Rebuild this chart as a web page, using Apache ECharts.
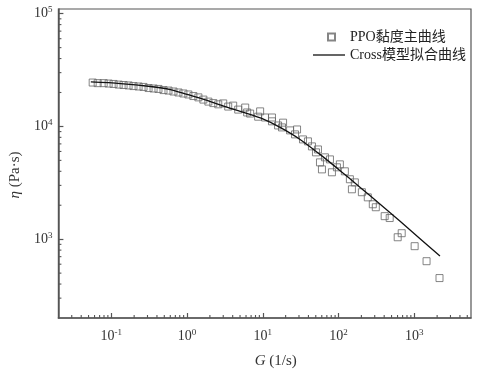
<!DOCTYPE html>
<html><head><meta charset="utf-8">
<script src="https://cdn.jsdelivr.net/npm/echarts@6/dist/echarts.min.js"></script>
<style>html,body{margin:0;padding:0;background:#fff}#c{width:481px;height:378px}</style>
</head><body><div id="c"></div>
<script>
// Measured viscosity master curve (shear rate G in 1/s, viscosity in Pa·s)
const measuredX = [0.0567,0.066,0.0792,0.0921,0.107,0.125,0.145,0.169,0.196,0.229,0.266,0.310,0.361,0.419,0.488,0.568,0.661,0.769,0.894,1.04,1.21,1.41,1.64,1.91,2.22,2.58,
  3.00,3.49,4.06,4.73,5.85,6.21,6.80,8.67,9.21,10.7,13.2,13.2,15.9,18.5,17.9,22.9,28.3,26.6,33.9,39.4,44.5,50.3,53.4,56.8,60.3,66.1,76.9,81.7,95.1,104,121,141,150,164,203,243,283,310,406,473,603,681,1010,1450,2150];
const measuredY = [24500,24200,24200,24000,23800,23500,23300,23100,22800,22600,22400,21900,21700,21500,21000,20800,20400,20000,19600,19200,18600,18100,17300,16600,16100,15700,
  16000,15000,15300,14100,14700,13300,13000,12200,13600,12000,12000,11100,10200,10800,9800,9220,9400,8500,7670,7370,6650,5890,6250,4800,4160,5320,5100,3920,4340,4610,4000,3400,2770,3190,2610,2350,2040,1920,1600,1540,1040,1130,867,638,452];
// Cross model fit curve
const fitX = [0.0536,0.1325,0.329,0.603,1.0,1.74,3.19,5.85,10,16.9,31.0,56.8,100,193,354,649,1190,2180];
const fitY = [24800,24000,22600,21200,19200,17200,15000,13200,11650,9800,7670,5650,4160,2880,2040,1440,1010,708];
// Axis extents and minor tick values
const xRange = [0.02, 5600];
const yRange = [200, 110000];
const xMinorTicks = [0.03,0.04,0.05,0.06,0.07,0.08,0.09,0.2,0.3,0.4,0.5,0.6,0.7,0.8,0.9,2,3,4,5,6,7,8,9,20,30,40,50,60,70,80,90,200,300,400,500,600,700,800,900,2000,3000,4000,5000];
const yMinorTicks = [300,400,500,600,700,800,900,2000,3000,4000,5000,6000,7000,8000,9000,20000,30000,40000,50000,60000,70000,80000,90000];
const seriesNames = ['PPO黏度主曲线','Cross模型拟合曲线'];

const SERIF = "'Liberation Serif','Noto Sans CJK SC',serif";
const AX = '#555';
function powLabel(v){
  const e = Math.log10(v), r = Math.round(e);
  if (Math.abs(e - r) > 1e-6) return '';
  return '{b|10}{s|' + r + '}';
}
const richLab = {
  b:{fontFamily:SERIF,fontSize:14,color:'#333',lineHeight:17},
  s:{fontFamily:SERIF,fontSize:9,color:'#333',verticalAlign:'top'}
};
const chart = echarts.init(document.getElementById('c'), null, {renderer:'canvas'});
chart.setOption({
  animation:false,
  backgroundColor:'#fff',
  grid:{left:57,right:10,top:9,bottom:60,show:true,borderColor:AX,borderWidth:1.2,backgroundColor:'transparent'},
  legend:[
    {data:[seriesNames[0]],left:322,top:25,itemWidth:7,itemHeight:7,
     textStyle:{fontFamily:SERIF,fontSize:14,color:'#222',padding:[0,0,0,10]}},
    {data:[{name:seriesNames[1],icon:'rect'}],left:308,top:43,itemWidth:32,itemHeight:1.3,
     textStyle:{fontFamily:SERIF,fontSize:14,color:'#222'}}
  ],
  xAxis:{type:'log',logBase:10,min:xRange[0],max:xRange[1],
    name:'{i|G} (1/s)',nameLocation:'middle',nameGap:36,
    nameTextStyle:{fontFamily:SERIF,fontSize:15,color:'#333',padding:[0,0,0,22],
      rich:{i:{fontFamily:SERIF,fontSize:15,fontStyle:'italic',color:'#333'}}},
    axisLine:{lineStyle:{color:AX,width:1.5}},
    axisTick:{inside:true,length:5,lineStyle:{color:AX,width:1.2}},
    axisLabel:{formatter:powLabel,rich:richLab,margin:10,showMinLabel:false,showMaxLabel:false},
    splitLine:{show:false}},
  yAxis:{type:'log',logBase:10,min:yRange[0],max:yRange[1],
    name:'{i|η} (Pa·s)',nameLocation:'middle',nameGap:34,nameRotate:90,
    nameTextStyle:{fontFamily:SERIF,fontSize:15,color:'#333',padding:[0,23,0,0],
      rich:{i:{fontFamily:SERIF,fontSize:15,fontStyle:'italic',color:'#333'}}},
    axisLine:{lineStyle:{color:AX,width:1.5}},
    axisTick:{inside:true,length:5,lineStyle:{color:AX,width:1.2}},
    axisLabel:{formatter:powLabel,rich:richLab,margin:6,showMinLabel:false,showMaxLabel:false},
    splitLine:{show:false}},
  series:[
    {name:seriesNames[0],type:'scatter',symbol:'rect',symbolSize:7,
     itemStyle:{color:'rgba(255,255,255,0)',borderColor:'#666',borderWidth:1},
     data:measuredX.map((x,i)=>[x,measuredY[i]]),z:3},
    {name:seriesNames[1],type:'line',symbol:'none',showSymbol:false,smooth:0.3,
     lineStyle:{color:'#111',width:1.3},itemStyle:{color:'#111'},
     data:fitX.map((x,i)=>[x,fitY[i]]),z:4},
    {type:'custom',silent:true,clip:false,
     data:xMinorTicks.map(v=>[v,yRange[0]]),
     renderItem:function(p,api){const c=api.coord([api.value(0),yRange[0]]);
       return {type:'line',shape:{x1:c[0],y1:c[1],x2:c[0],y2:c[1]-3},style:{stroke:AX,lineWidth:1.1}};}},
    {type:'custom',silent:true,clip:false,
     data:yMinorTicks.map(v=>[xRange[0],v]),
     renderItem:function(p,api){const c=api.coord([xRange[0],api.value(1)]);
       return {type:'line',shape:{x1:c[0],y1:c[1],x2:c[0]+3,y2:c[1]},style:{stroke:AX,lineWidth:1.1}};}}
  ]
});
</script>
</body></html>
